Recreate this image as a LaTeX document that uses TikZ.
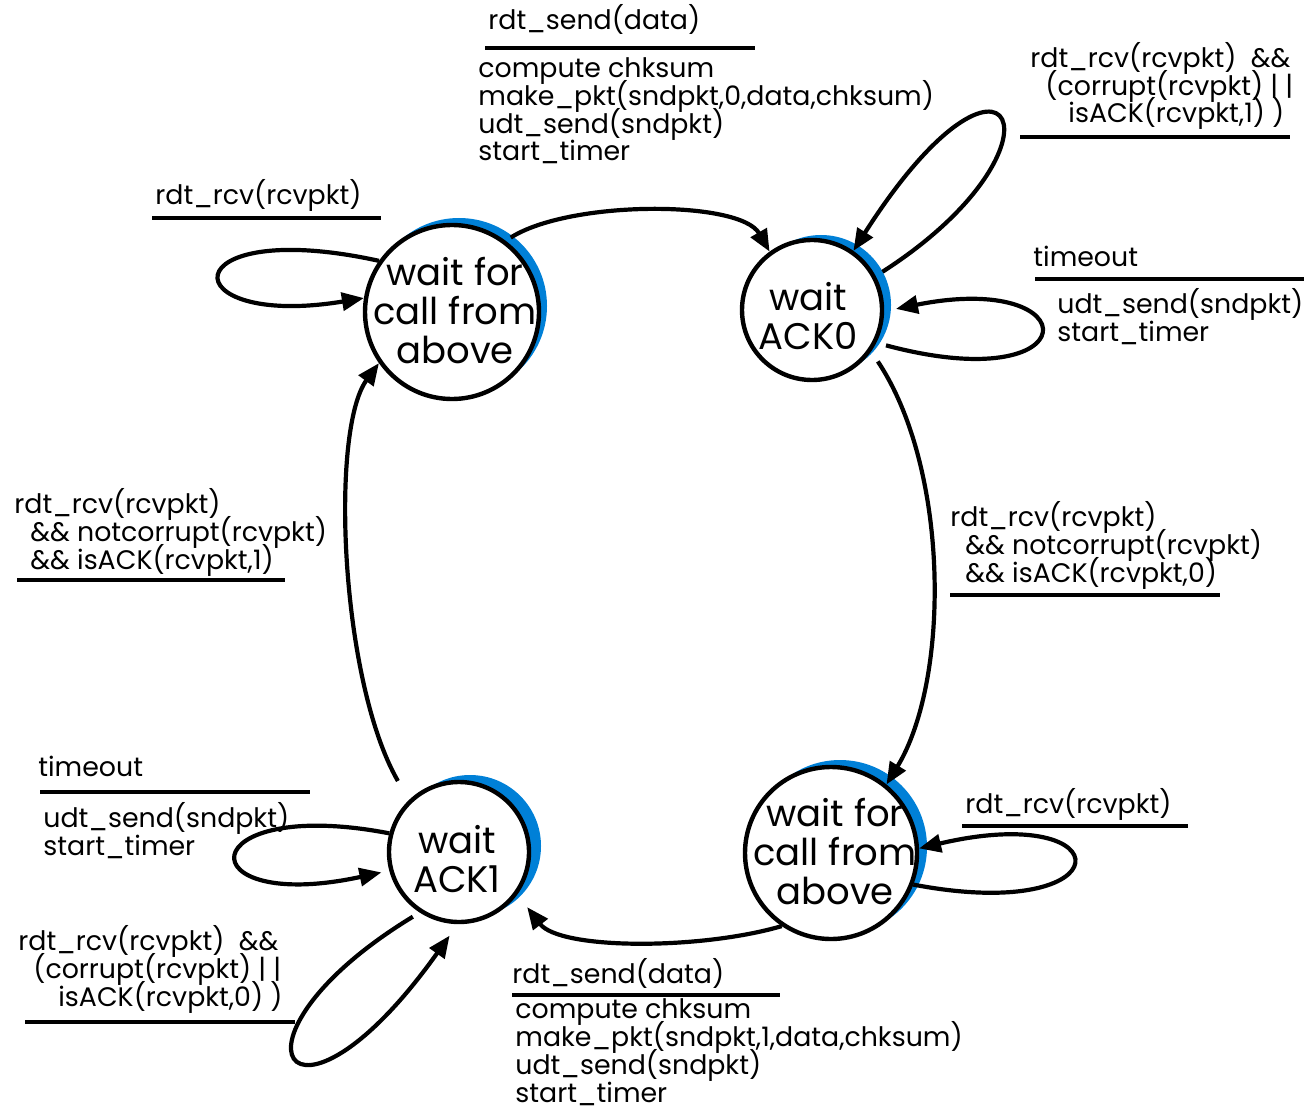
\documentclass[tikz,border=0pt]{standalone}
\usepackage{fontspec}
\setmainfont{Poppins}
\usepackage{tikz}
\usetikzlibrary{arrows.meta}
\definecolor{crescentBlue}{RGB}{0,128,215}
\newcommand{\tightlines}{\lineskiplimit-20pt\relax}

\begin{document}
\begin{tikzpicture}[x=0.5pt, y=-0.5pt,
            >={Triangle[length=11pt,width=9pt]}]
            \tikzstyle{stateStyle} = [circle,draw=black,fill=white,line width=2.2pt,inner sep=0pt]
            \tikzstyle{stateText} = [align=center,font={\fontsize{18.5}{19.5}\selectfont\tightlines}]
            \tikzstyle{crescentStyle} = [fill=crescentBlue]
            \tikzstyle{edgeStyle} = [draw=black, line width=2.1pt, ->]
            \tikzstyle{labelStyle} = [anchor=base west,align=left,inner sep=0pt,
                                      font={\fontsize{13.4}{13.85}\selectfont\tightlines}]
            \tikzstyle{ruleStyle} = [draw=black, line width=2.2pt]
            \useasboundingbox (0,0) rectangle (1304,1112);
            % blue crescents behind the states
            \fill[crescentStyle] (459,306) circle[radius=88];
            \fill[crescentStyle] (821,305) circle[radius=70];
            \fill[crescentStyle] (470,846) circle[radius=71];
            \fill[crescentStyle] (840,847) circle[radius=87];
            % states
            \node[stateStyle, minimum size=87pt] (call0) at (452,312) {};
            \node[stateStyle, minimum size=70pt] (ack0)  at (812,310) {};
            \node[stateStyle, minimum size=70pt] (ack1)  at (459,852) {};
            \node[stateStyle, minimum size=86pt] (call1) at (831,853) {};
            \node[stateText] (call0txt) at (455,311) {wait for\\call from\\above};
            \node[stateText] (ack0txt)  at (808,316) {wait\\ACK0};
            \node[stateText] (ack1txt)  at (457,859) {wait\\ACK1};
            \node[stateText] (call1txt) at (835,852) {wait for\\call from\\above};
            % transitions
            \draw[edgeStyle, shorten <=3pt] (call0.53) .. controls (570,200) and (740,200) .. (ack0.126);
            \draw[edgeStyle] (call0.145) .. controls (170,215) and (170,330) .. (call0.171);
            \draw[edgeStyle, shorten <=4pt] (ack0.28) .. controls (1080,145) and (1010,5) .. (ack0.55);
            \draw[edgeStyle, shorten <=5pt, shorten >=6pt] (ack0.-27) .. controls (1090,400) and (1090,270) .. (ack0.-1);
            \draw[edgeStyle, shorten <=6pt] (ack0.-35) .. controls (950,470) and (950,680) .. (call1.51);
            \draw[edgeStyle] (call1.-21) .. controls (1125,925) and (1125,800) .. (call1.3);
            \draw[edgeStyle, shorten >=8pt] (call1.236) .. controls (700,950) and (560,950) .. (ack1.-36);
            \draw[edgeStyle, shorten >=4pt] (ack1.165) .. controls (190,795) and (185,915) .. (ack1.195);
            \draw[edgeStyle, shorten <=4pt, shorten >=7pt] (ack1.237) .. controls (210,1040) and (290,1160) .. (ack1.269);
            \draw[edgeStyle, shorten <=11pt] (ack1.134) .. controls (340,680) and (330,430) .. (call0.215);
            % event / action labels (anchored at the last line's baseline)
            \node[labelStyle] (sendEv0) at (488,30) {rdt\_send(data)};
            \node[labelStyle] (sendAct0) at (478,161) {compute chksum\\make\_pkt(sndpkt,0,data,chksum)\\udt\_send(sndpkt)\\start\_timer};
            \node[labelStyle] (rcvEvC0) at (155,205) {rdt\_rcv(rcvpkt)};
            \node[labelStyle] (rcvEvA0) at (1030,123) {rdt\_rcv(rcvpkt)\ \ \&\&\\\hspace*{7.5pt}(corrupt(rcvpkt)\ |\ |\\\hspace*{19pt}isACK(rcvpkt,1) )};
            \node[labelStyle] (toEvA0) at (1033,267) {timeout};
            \node[labelStyle] (toActA0) at (1057,341) {udt\_send(sndpkt)\\start\_timer};
            \node[labelStyle] (okEvA0) at (950,582) {rdt\_rcv(rcvpkt)\\\hspace*{7.5pt}\&\& notcorrupt(rcvpkt)\\\hspace*{7.5pt}\&\& isACK(rcvpkt,0)};
            \node[labelStyle] (okEvA1) at (14,569) {rdt\_rcv(rcvpkt)\\\hspace*{8pt}\&\& notcorrupt(rcvpkt)\\\hspace*{8pt}\&\& isACK(rcvpkt,1)};
            \node[labelStyle] (toEvA1) at (38,776) {timeout};
            \node[labelStyle] (toActA1) at (43,855) {udt\_send(sndpkt)\\start\_timer};
            \node[labelStyle] (rcvEvC1) at (965,813) {rdt\_rcv(rcvpkt)};
            \node[labelStyle] (rcvEvA1) at (18,1006) {rdt\_rcv(rcvpkt)\ \ \&\&\\\hspace*{7.5pt}(corrupt(rcvpkt)\ |\ |\\\hspace*{20pt}isACK(rcvpkt,0) )};
            \node[labelStyle] (sendEv1) at (512,983) {rdt\_send(data)};
            \node[labelStyle] (sendAct1) at (515,1102) {compute chksum\\make\_pkt(sndpkt,1,data,chksum)\\udt\_send(sndpkt)\\start\_timer};
            % underlines
            \foreach \xa/\xb/\yy in {485/755/48, 152/381/218, 1020/1290/137,
                                    1035/1304/279, 950/1220/595, 17/285/580,
                                    40/310/792, 962/1188/826, 25/295/1022, 512/780/995}
                \path[ruleStyle] (\xa,\yy) -- (\xb,\yy);
\end{tikzpicture}
\end{document}
